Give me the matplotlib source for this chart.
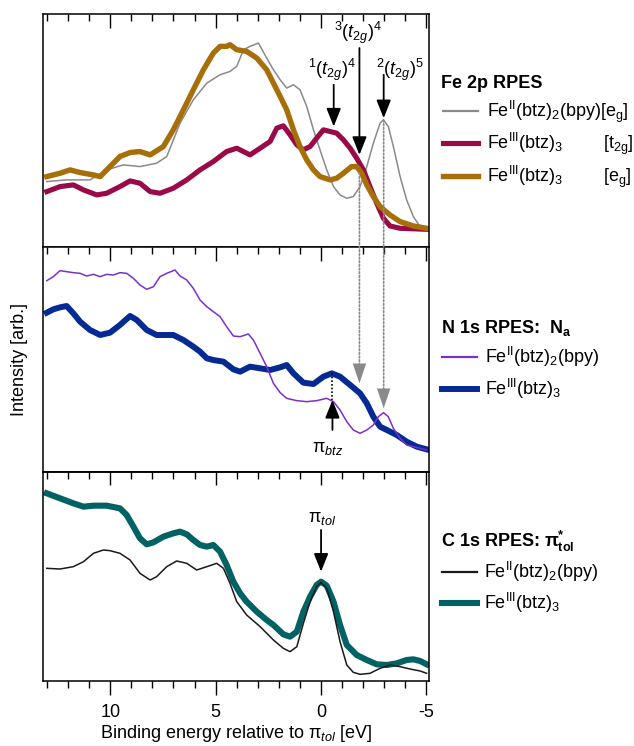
import matplotlib
matplotlib.use("Agg")
import matplotlib.pyplot as plt
from matplotlib.lines import Line2D
from matplotlib.patches import ConnectionPatch
from matplotlib.ticker import MultipleLocator

plt.rcParams['font.family'] = ['Liberation Sans', 'DejaVu Sans']
plt.rcParams['mathtext.fontset'] = 'custom'
plt.rcParams['mathtext.rm'] = 'Liberation Sans'
plt.rcParams['mathtext.it'] = 'Liberation Sans:italic'
plt.rcParams['mathtext.bf'] = 'Liberation Sans:bold'
plt.rcParams['font.size'] = 13

# ---- Fe 2p RPES ----
fe2p_bpy_x = [13.01, 12.07, 10.96, 10.17, 9.38, 8.59, 7.80, 7.32, 6.69, 6.06, 5.42, 4.79, 4.32,
              4.00, 3.68, 3.37, 2.97, 2.58, 2.26, 1.94, 1.63, 1.31, 1.00, 0.68, 0.36, 0.05,
              -0.27, -0.59, -0.90, -1.22, -1.53, -1.85, -2.17, -2.48, -2.80, -2.96, -3.19,
              -3.43, -3.75, -4.06, -4.38, -4.70, -5.01]
fe2p_bpy_y = [1.96, 2.01, 2.01, 2.31, 2.46, 2.41, 2.51, 2.71, 3.71, 4.41, 4.91, 5.16, 5.26,
              5.41, 5.91, 6.01, 6.11, 5.66, 5.31, 5.01, 4.76, 4.86, 4.71, 4.21, 3.51, 2.91,
              2.31, 1.81, 1.56, 1.46, 1.51, 1.81, 2.41, 3.11, 3.71, 3.81, 3.61,
              3.01, 2.11, 1.41, 0.91, 0.61, 0.51]

fe2p_t2g_x = [13.01, 12.38, 11.75, 11.27, 10.64, 10.17, 9.54, 9.06, 8.59, 8.11, 7.64, 7.01,
              6.37, 5.74, 5.11, 4.48, 4.00, 3.37, 2.89, 2.42, 2.10, 1.79, 1.47, 1.15, 0.84,
              0.52, 0.21, -0.11, -0.43, -0.74, -1.06, -1.38, -1.69, -2.01, -2.32, -2.64,
              -2.96, -3.27, -3.75, -5.01]
fe2p_t2g_y = [1.66, 1.81, 1.86, 1.71, 1.56, 1.61, 1.81, 1.98, 1.91, 1.66, 1.61, 1.76,
              2.01, 2.31, 2.56, 2.86, 2.96, 2.76, 2.96, 3.16, 3.56, 3.63, 3.36, 3.06, 2.91,
              3.01, 3.26, 3.51, 3.46, 3.41, 3.21, 2.96, 2.66, 2.31, 1.81, 1.31,
              0.86, 0.63, 0.56, 0.53]

fe2p_eg_x = [13.01, 12.38, 11.91, 11.43, 10.80, 10.48, 10.01, 9.54, 9.06, 8.59, 8.11, 7.48,
             7.01, 6.53, 6.06, 5.58, 5.11, 4.79, 4.48, 4.32, 4.00, 3.53, 3.05, 2.58, 2.26,
             1.94, 1.63, 1.31, 1.00, 0.68, 0.36, 0.05, -0.43, -0.74, -1.06, -1.45, -1.69,
             -1.93, -2.17, -2.48, -2.80, -3.27, -3.75, -4.38, -5.01]
fe2p_eg_y = [2.11, 2.21, 2.31, 2.23, 2.16, 2.11, 2.41, 2.71, 2.83, 2.86, 2.76, 3.01,
             3.51, 4.11, 4.71, 5.31, 5.81, 6.01, 6.01, 6.06, 5.91, 5.86, 5.66, 5.31, 4.91,
             4.51, 4.11, 3.51, 3.01, 2.61, 2.31, 2.11, 2.01, 2.06, 2.21, 2.41, 2.41,
             2.21, 1.86, 1.51, 1.21, 0.96, 0.76, 0.63, 0.56]

# ---- N 1s RPES ----
n1s_bpy_x = [13.01, 12.70, 12.38, 12.07, 11.75, 11.43, 11.12, 10.80, 10.48, 10.17, 9.85, 9.54,
             9.22, 8.90, 8.59, 8.27, 7.95, 7.64, 7.32, 6.93, 6.69, 6.37, 6.06, 5.74, 5.42,
             5.11, 4.79, 4.48, 4.16, 3.84, 3.45, 3.21, 2.89, 2.58, 2.26, 1.94, 1.63, 1.15,
             0.68, 0.21, -0.27, -0.59, -0.90, -1.22, -1.53, -1.85, -2.17, -2.48, -2.72,
             -2.96, -3.19, -3.43, -3.75, -4.06, -4.38, -5.01]
n1s_bpy_y = [5.74, 5.86, 6.04, 6.01, 5.98, 5.96, 5.88, 5.93, 5.86, 5.93, 5.91, 5.98,
             5.96, 5.81, 5.61, 5.48, 5.56, 5.86, 5.96, 6.06, 5.88, 5.76, 5.51, 5.16, 4.96,
             4.81, 4.66, 4.36, 4.08, 4.06, 4.14, 3.96, 3.56, 3.16, 2.66, 2.38, 2.21, 2.14,
             2.11, 2.14, 2.21, 2.11, 1.86, 1.51, 1.26, 1.16, 1.26, 1.41, 1.66,
             1.78, 1.66, 1.31, 1.01, 0.81, 0.76, 0.66]

n1s_fe3_x = [13.01, 12.70, 12.38, 12.07, 11.75, 11.43, 10.96, 10.48, 10.01, 9.54, 9.06, 8.74,
             8.27, 7.80, 7.32, 7.01, 6.53, 6.06, 5.74, 5.42, 5.11, 4.63, 4.16, 3.84, 3.37,
             2.89, 2.42, 1.94, 1.63, 1.31, 0.84, 0.36, -0.11, -0.51, -0.90, -1.38, -1.85,
             -2.17, -2.48, -2.80, -3.12, -3.59, -4.06, -4.54, -5.01]
n1s_fe3_y = [4.78, 4.88, 4.94, 4.98, 4.76, 4.51, 4.26, 4.11, 4.18, 4.41, 4.68, 4.56,
             4.26, 4.11, 4.11, 4.11, 3.96, 3.76, 3.61, 3.41, 3.36, 3.31, 3.08, 3.01, 3.16,
             3.11, 3.06, 3.14, 3.21, 2.96, 2.68, 2.64, 2.86, 2.96, 2.86, 2.61, 2.36,
             2.06, 1.66, 1.36, 1.26, 1.11, 0.91, 0.76, 0.68]

# ---- C 1s RPES ----
c1s_fe3_x = [13.01, 12.38, 11.75, 11.27, 10.80, 10.17, 9.54, 9.22, 8.90, 8.59, 8.27, 7.95,
             7.48, 7.01, 6.69, 6.37, 6.06, 5.74, 5.42, 5.11, 4.79, 4.48, 4.16, 3.84, 3.53,
             3.05, 2.58, 2.26, 1.79, 1.47, 1.15, 0.84, 0.52, 0.21, 0.00, -0.27, -0.59,
             -0.90, -1.22, -1.69, -2.17, -2.64, -3.12, -3.59, -4.06, -4.38, -4.70, -5.01]
c1s_fe3_y = [5.57, 5.42, 5.27, 5.17, 5.20, 5.20, 5.12, 4.92, 4.57, 4.22, 4.04, 4.10,
             4.27, 4.37, 4.42, 4.34, 4.17, 4.02, 3.97, 4.02, 3.82, 3.42, 2.92, 2.57, 2.32,
             2.02, 1.77, 1.62, 1.34, 1.27, 1.42, 2.02, 2.47, 2.82, 2.92, 2.80, 2.32,
             1.62, 1.02, 0.72, 0.57, 0.44, 0.42, 0.47, 0.57, 0.59, 0.54, 0.44]

c1s_bpy_x = [13.01, 12.38, 11.75, 11.27, 10.80, 10.33, 10.01, 9.54, 9.06, 8.59, 8.11, 7.80,
             7.32, 6.85, 6.37, 5.90, 5.42, 4.95, 4.63, 4.32, 4.00, 3.53, 2.89, 2.26, 1.79,
             1.47, 1.15, 0.84, 0.52, 0.21, 0.00, -0.27, -0.59, -0.90, -1.22, -1.53, -1.85,
             -2.32, -2.80, -3.27, -3.75, -4.22, -4.70, -5.01]
c1s_bpy_y = [3.32, 3.30, 3.37, 3.52, 3.77, 3.87, 3.85, 3.77, 3.57, 3.17, 2.97, 3.07,
             3.37, 3.54, 3.47, 3.27, 3.37, 3.47, 3.32, 2.87, 2.32, 1.92, 1.57, 1.17, 0.92,
             0.82, 0.97, 1.67, 2.32, 2.77, 2.90, 2.72, 2.02, 1.12, 0.42, 0.20, 0.14,
             0.17, 0.32, 0.42, 0.37, 0.30, 0.24, 0.17]

# line styles
gray = dict(color='#8a8a8a', lw=1.1)
crimson = dict(color='#9a0a48', lw=3.7)
gold = dict(color='#a66f0a', lw=3.9)
purple = dict(color='#7a30cc', lw=1.1)
navy = dict(color='#062a94', lw=4.3)
black = dict(color='#1a1a1a', lw=1.1)
teal = dict(color='#006262', lw=4.4)

W, H = 634, 746
fig = plt.figure(figsize=(W / 100, H / 100), dpi=100)

def px_box(x0, y0, x1, y1):
    return [x0 / W, 1 - y1 / H, (x1 - x0) / W, (y1 - y0) / H]

ax1 = fig.add_axes(px_box(43, 14, 429, 247))
ax2 = fig.add_axes(px_box(43, 247, 429, 472))
ax3 = fig.add_axes(px_box(43, 472, 429, 681))

ax1.plot(fe2p_bpy_x, fe2p_bpy_y, **gray)
ax1.plot(fe2p_t2g_x, fe2p_t2g_y, **crimson)
ax1.plot(fe2p_eg_x, fe2p_eg_y, **gold)

ax2.plot(n1s_fe3_x, n1s_fe3_y, **navy)
ax2.plot(n1s_bpy_x, n1s_bpy_y, **purple)

ax3.plot(c1s_fe3_x, c1s_fe3_y, **teal)
ax3.plot(c1s_bpy_x, c1s_bpy_y, **black)

ax1.set_ylim(0, 6.98)
ax2.set_ylim(0, 6.75)
ax3.set_ylim(-0.06, 6.21)

for ax in (ax1, ax2, ax3):
    ax.set_xlim(13.19, -5.12)
    ax.xaxis.set_major_locator(MultipleLocator(5))
    ax.xaxis.set_minor_locator(MultipleLocator(1))
    ax.set_yticks([])
    for s in ax.spines.values():
        s.set_linewidth(1.1)
    ax.tick_params(axis='x', which='major', length=9.8, width=1.0)
    ax.tick_params(axis='x', which='minor', length=5.2, width=1.0)

for ax in (ax1, ax2):
    ax.tick_params(axis='x', which='both', direction='in', top=True, bottom=False,
                   labelbottom=False, labeltop=False)

ax3.tick_params(axis='x', which='both', direction='out', top=False, bottom=True, pad=7)
sec = ax3.secondary_xaxis('top')
sec.xaxis.set_major_locator(MultipleLocator(5))
sec.xaxis.set_minor_locator(MultipleLocator(1))
sec.tick_params(axis='x', which='both', direction='in', labeltop=False)
sec.tick_params(axis='x', which='major', length=9.4, width=1.0)
sec.tick_params(axis='x', which='minor', length=5.0, width=1.0)
sec.spines['top'].set_linewidth(1.1)
ax3.set_xticks([10, 5, 0, -5])
ax3.set_xticklabels(['10', '5', '0', '-5'])
ax3.set_xlabel(r'Binding energy relative to π$_{tol}$ [eV]', labelpad=1)

fig.text(20 / W, 1 - 360 / H, 'Intensity [arb.]', rotation=90, ha='center', va='center')

# arrows
head = dict(arrowstyle='-|>,head_length=0.5,head_width=0.2', mutation_scale=22,
            color='k', lw=1.3, shrinkA=0, shrinkB=0)

def arrow(ax, x, y_tail, y_tip, **kw):
    props = dict(head)
    props.update(kw)
    ax.annotate('', xy=(x, y_tip), xytext=(x, y_tail), arrowprops=props)

arrow(ax1, -0.6, 4.86, 3.61)
arrow(ax1, -1.82, 5.96, 2.76)
arrow(ax1, -2.97, 5.16, 3.86)
ax1.text(-0.5, 5.31, r'$^1$($t_{2g}$)$^4$', ha='center', va='center')
ax1.text(-1.77, 6.41, r'$^3$($t_{2g}$)$^4$', ha='center', va='center')
ax1.text(-3.75, 5.31, r'$^2$($t_{2g}$)$^5$', ha='center', va='center')

# dotted guides from Fe 2p down to N 1s
dots = (0, (1, 1.2))
for x, y_top, y_tip in [(-1.82, 2.22, 2.66), (-2.97, 3.80, 1.91)]:
    con = ConnectionPatch(xyA=(x, y_top), coordsA=ax1.transData,
                          xyB=(x, y_tip + 0.45), coordsB=ax2.transData,
                          color='#8a8a8a', lw=1.2, linestyle=dots)
    fig.add_artist(con)
    arrow(ax2, x, y_tip + 0.45, y_tip, color='#8a8a8a', lw=0,
          arrowstyle='-|>,head_length=0.65,head_width=0.22')

ax2.plot([-0.54, -0.54], [2.96, 2.16], color='k', lw=1.2, linestyle=dots)
arrow(ax2, -0.54, 1.26, 2.16)
ax2.text(-0.3, 0.71, r'π$_{btz}$', ha='center', va='center')

arrow(ax3, 0.0, 4.47, 3.22)
ax3.text(-0.05, 4.82, r'π$_{tol}$', ha='center', va='center')

# legends at the right
def legend_block(title, entries, title_y, x_line=443, x_text=487):
    fig.text(441 / W, 1 - title_y / H, title, fontweight='bold', ha='left', va='baseline')
    for y, style, label, extra in entries:
        fig.add_artist(Line2D([x_line / W, (x_line + 35) / W], [1 - y / H, 1 - y / H],
                              transform=fig.transFigure, color=style['color'],
                              lw=style['lw'] if style['lw'] > 2 else 1.6))
        fig.text(x_text / W, 1 - (y + 6) / H, label, ha='left', va='baseline')
        if extra:
            fig.text(603 / W, 1 - (y + 6) / H, extra, ha='left', va='baseline')

legend_block('Fe 2p RPES', [
    (111, gray, r'Fe$^{\rm II}$(btz)$_2$(bpy)[e$_{\rm g}$]', None),
    (143, crimson, r'Fe$^{\rm III}$(btz)$_3$', r'[t$_{\rm 2g}$]'),
    (176, gold, r'Fe$^{\rm III}$(btz)$_3$', r'[e$_{\rm g}$]'),
], 88)

legend_block(r'N 1s RPES:  N$_{\mathbf{a}}$', [
    (357, purple, r'Fe$^{\rm II}$(btz)$_2$(bpy)', None),
    (389, navy, r'Fe$^{\rm III}$(btz)$_3$', None),
], 333, x_line=442, x_text=485)

legend_block(r'C 1s RPES: π$^{\mathbf{*}}_{\mathbf{tol}}$', [
    (572, black, r'Fe$^{\rm II}$(btz)$_2$(bpy)', None),
    (603, teal, r'Fe$^{\rm III}$(btz)$_3$', None),
], 547, x_line=442, x_text=484)

fig.savefig('out.png', dpi=100)
